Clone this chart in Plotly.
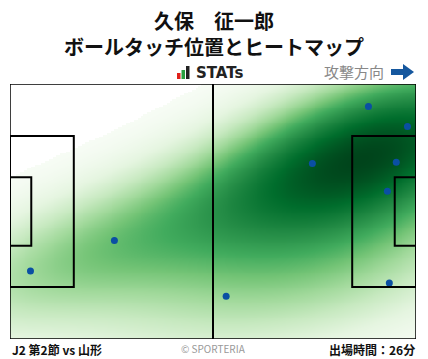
import numpy as np
import plotly.graph_objects as go

# ---- data ----
player_name = "久保　征一郎"
chart_title = "ボールタッチ位置とヒートマップ"
match_label = "J2 第2節 vs 山形"
minutes_label = "出場時間：26分"
# ball-touch positions in metres (x along 105 m pitch, y from top across 68 m)
touch_x = [5.3, 27.0, 92.7, 102.8, 78.2, 99.9, 97.6, 98.1, 55.9]
touch_y = [49.9, 41.7, 6.0, 11.3, 21.2, 20.9, 28.6, 53.1, 56.6]

PITCH_L, PITCH_W = 105.0, 68.0
W, H = 428, 359

def px(x):
    return x / W

def py(y):
    return 1 - y / H

# ---- KDE (gaussian, Scott bandwidth with adjustment, full covariance) ----
pts = np.vstack([touch_x, touch_y])
n = pts.shape[1]
bw_adjust = 1.3
factor = n ** (-1.0 / 6) * bw_adjust
cov = np.cov(pts) * factor ** 2
inv = np.linalg.inv(cov)

def kde(XX, YY):
    d = np.zeros_like(XX)
    for i in range(n):
        dx = XX - pts[0, i]
        dy = YY - pts[1, i]
        q = inv[0, 0] * dx * dx + 2 * inv[0, 1] * dx * dy + inv[1, 1] * dy * dy
        d += np.exp(-0.5 * q)
    return d

# wide grid for iso-proportion levels (as in seaborn kdeplot)
wx = np.linspace(-60, 165, 320)
wy = np.linspace(-50, 118, 320)
WX, WY = np.meshgrid(wx, wy)
wd = np.sort(kde(WX, WY).ravel())
cum = np.cumsum(wd)
cum /= cum[-1]

gx = np.linspace(0, PITCH_L, 211)
gy = np.linspace(0, PITCH_W, 137)
XX, YY = np.meshgrid(gx, gy)
dens = kde(XX, YY)
prop = np.interp(dens.ravel(), wd, cum).reshape(dens.shape)
thresh = 0.045
zval = np.where(prop < thresh, -1.0, ((prop - thresh) / (1 - thresh)) ** 1.15)

greens = [
    [0.0, "#ffffff"], [0.4999, "#ffffff"], [0.5, "#f7fcf5"], [0.5625, "#e5f5e0"],
    [0.625, "#c7e9c0"], [0.6875, "#a1d99b"], [0.75, "#74c476"],
    [0.8125, "#41ab5d"], [0.875, "#238b45"], [0.9375, "#006d2c"], [1.0, "#00441b"],
]

fig = go.Figure()
fig.add_trace(go.Heatmap(x=gx, y=gy, z=zval, colorscale=greens, zmin=-1, zmax=1,
                         zsmooth="best", showscale=False, hoverinfo="skip"))
fig.add_trace(go.Scatter(x=touch_x, y=touch_y, mode="markers",
                         marker=dict(color="#0a4fa3", size=7), hoverinfo="skip"))

line = dict(color="black", width=2)
shapes = []
shapes.append(dict(type="rect", xref="x", yref="y", x0=0, x1=PITCH_L, y0=0, y1=PITCH_W, line=dict(color="black", width=1.5)))
shapes.append(dict(type="line", xref="x", yref="y", x0=PITCH_L / 2, x1=PITCH_L / 2, y0=0, y1=PITCH_W, line=line))
pb_w, ga_w = 40.32, 18.32
for (a, b) in [(0, 16.5), (PITCH_L - 16.5, PITCH_L)]:
    shapes.append(dict(type="rect", xref="x", yref="y", x0=a, x1=b,
                       y0=(PITCH_W - pb_w) / 2, y1=(PITCH_W + pb_w) / 2, line=line))
for (a, b) in [(0, 5.5), (PITCH_L - 5.5, PITCH_L)]:
    shapes.append(dict(type="rect", xref="x", yref="y", x0=a, x1=b,
                       y0=(PITCH_W - ga_w) / 2, y1=(PITCH_W + ga_w) / 2, line=line))

# STATs icon bars
for (x0, x1, y0, c) in [(177, 180.5, 73, "#e0201a"), (181.5, 185, 70, "#2aa040"), (186, 189.5, 66, "#222222")]:
    shapes.append(dict(type="rect", xref="paper", yref="paper", x0=px(x0), x1=px(x1),
                       y0=py(79), y1=py(y0), line=dict(width=0), fillcolor=c))
# attack-direction arrow
ap = [(391, 69), (403, 69), (403, 64), (414, 72), (403, 80), (403, 75), (391, 75)]
path = "M " + " L ".join(f"{px(a):.5f},{py(b):.5f}" for a, b in ap) + " Z"
shapes.append(dict(type="path", xref="paper", yref="paper", path=path,
                   fillcolor="#15579e", line=dict(width=0)))

font = "Noto Sans CJK JP"
ann = [
    dict(x=px(214), y=py(33.5), text=f"<b>{player_name}<br>{chart_title}</b>", size=20, color="#111111", xanchor="center", f=font),
    dict(x=px(194), y=py(73), text="<b>STATs</b>", size=15, color="#222222", xanchor="left", f="DejaVu Sans"),
    dict(x=px(386), y=py(72), text="攻撃方向", size=15, color="#888888", xanchor="right", f=font),
    dict(x=px(10), y=py(349), text=f"<b>{match_label}</b>", size=12, color="#111111", xanchor="left", f=font),
    dict(x=px(213), y=py(348), text="© SPORTERIA", size=10, color="#999999", xanchor="center", f=font),
    dict(x=px(417), y=py(349), text=f"<b>{minutes_label}</b>", size=12, color="#111111", xanchor="right", f=font),
]
annotations = [dict(xref="paper", yref="paper", x=a["x"], y=a["y"], text=a["text"], showarrow=False,
                    xanchor=a["xanchor"], yanchor="middle", align="center",
                    font=dict(family=a["f"], size=a["size"], color=a["color"])) for a in ann]

fig.update_layout(
    width=W, height=H, margin=dict(l=0, r=0, t=0, b=0),
    paper_bgcolor="white", plot_bgcolor="white", showlegend=False,
    xaxis=dict(range=[0, PITCH_L], domain=[px(10), px(416)], visible=False, fixedrange=True),
    yaxis=dict(range=[PITCH_W, 0], domain=[py(339), py(84)], visible=False, fixedrange=True),
    shapes=shapes, annotations=annotations,
)
fig.write_html("out.html", config=dict(displayModeBar=False),
               post_script="document.body.style.margin='0';document.body.style.overflow='hidden';")
